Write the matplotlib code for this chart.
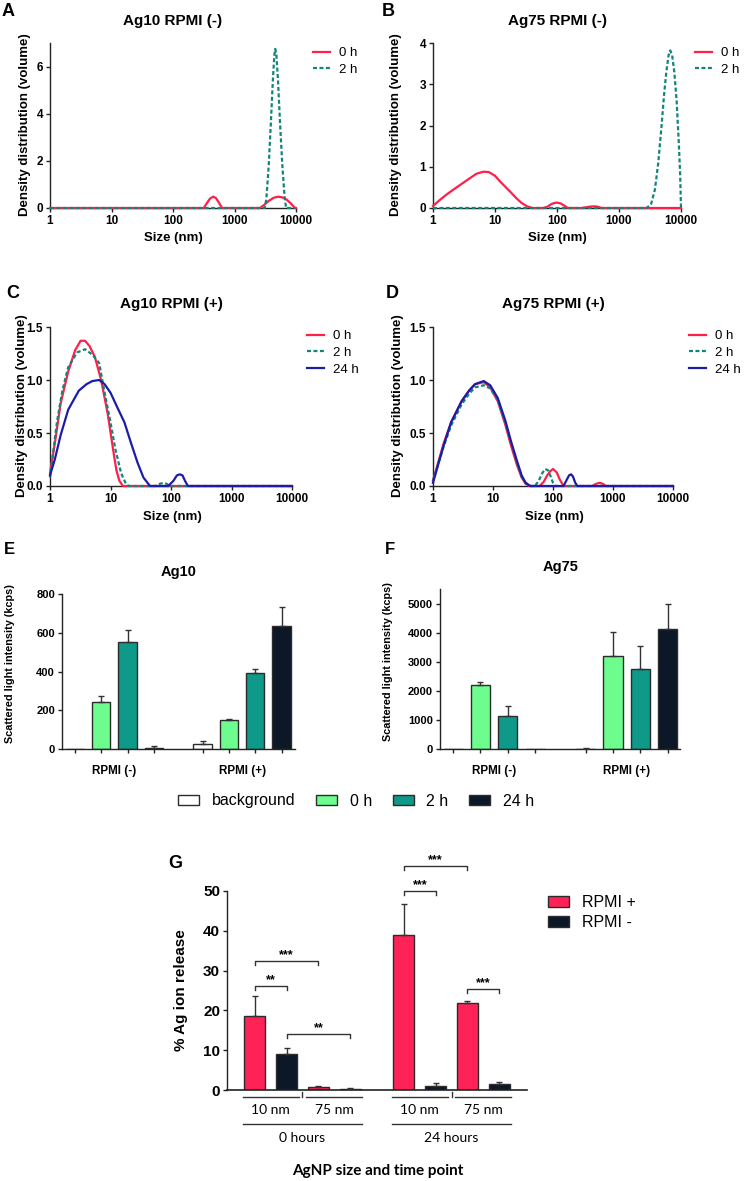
import numpy as np
import matplotlib
matplotlib.use("Agg")
import matplotlib.pyplot as plt
from matplotlib.patches import Patch
from matplotlib.ticker import NullLocator
import matplotlib.transforms as mtransforms

plt.rcParams['font.family'] = ['Liberation Sans', 'DejaVu Sans']

W, H = 745, 1181

# ---------------- data ----------------
# A: Ag10 RPMI (-)
a_0h_size = [1, 316, 350, 400, 450, 500, 560, 630, 2600, 3000, 3600, 4300, 5100, 6000, 7000, 8200, 9600, 10000]
a_0h_dens = [0, 0, 0.18, 0.40, 0.48, 0.42, 0.22, 0, 0, 0.12, 0.30, 0.43, 0.48, 0.45, 0.36, 0.20, 0, 0]
a_2h_size = [1, 3100, 3300, 3600, 3900, 4200, 4450, 4600, 4800, 5100, 5500, 6000, 6500, 6900, 10000]
a_2h_dens = [0, 0, 0.4, 1.8, 3.6, 5.4, 6.5, 6.75, 6.5, 5.4, 3.6, 1.8, 0.5, 0, 0]

# B: Ag75 RPMI (-)
b_0h_size = [1, 1.3, 1.7, 2.2, 3, 4, 5, 6.5, 8, 10, 12.5, 15, 18, 22, 27, 33, 40,
             60, 70, 80, 90, 100, 115, 130, 150, 250, 300, 350, 400, 460, 520, 10000]
b_0h_dens = [0.05, 0.2, 0.34, 0.46, 0.6, 0.73, 0.83, 0.88, 0.87, 0.78, 0.62, 0.5, 0.38, 0.24, 0.12, 0.04, 0,
             0, 0.03, 0.09, 0.12, 0.13, 0.11, 0.06, 0, 0, 0.02, 0.035, 0.04, 0.03, 0, 0]
b_2h_size = [1, 2800, 3300, 3800, 4300, 4800, 5300, 5800, 6300, 6700, 7200, 7800, 8500, 9200, 9700, 10000]
b_2h_dens = [0, 0, 0.1, 0.45, 1.1, 1.9, 2.7, 3.3, 3.7, 3.82, 3.7, 3.3, 2.6, 1.6, 0.8, 0]

# C: Ag10 RPMI (+)
c_0h_size = [1, 1.2, 1.5, 2, 2.6, 3.2, 3.8, 4.5, 5.5, 7, 9, 11, 12.5, 14, 16, 10000]
c_0h_dens = [0.12, 0.4, 0.78, 1.08, 1.28, 1.37, 1.37, 1.32, 1.22, 1.0, 0.68, 0.35, 0.15, 0.05, 0, 0]
c_2h_size = [1, 1.3, 1.6, 2, 2.8, 3.8, 5, 6.5, 8, 10, 12, 15, 18, 20, 55, 65, 75, 85, 95, 10000]
c_2h_dens = [0.08, 0.6, 0.9, 1.12, 1.26, 1.29, 1.24, 1.16, 0.88, 0.6, 0.35, 0.12, 0.02, 0, 0, 0.02, 0.03, 0.02, 0, 0]
c_24h_size = [1, 1.2, 1.5, 2, 3, 4, 5, 6.5, 8, 10, 13, 17, 22, 28, 35, 45,
              90, 110, 125, 140, 155, 170, 190, 10000]
c_24h_dens = [0.1, 0.25, 0.48, 0.72, 0.9, 0.96, 0.99, 1.0, 0.96, 0.88, 0.74, 0.6, 0.4, 0.22, 0.08, 0,
              0, 0.05, 0.1, 0.11, 0.1, 0.05, 0, 0]

# D: Ag75 RPMI (+)
d_0h_size = [1, 1.5, 2, 3, 4, 5, 7, 9, 12, 16, 20, 25, 30, 35, 40,
             60, 70, 80, 90, 100, 115, 130, 150, 450, 520, 600, 680, 760, 10000]
d_0h_dens = [0.05, 0.4, 0.6, 0.8, 0.9, 0.96, 0.98, 0.93, 0.8, 0.58, 0.38, 0.2, 0.08, 0.02, 0,
             0, 0.04, 0.1, 0.14, 0.16, 0.13, 0.06, 0, 0, 0.02, 0.03, 0.02, 0, 0]
d_2h_size = [1, 1.5, 2, 3, 4, 5, 7, 9, 12, 16, 20, 25, 30, 35, 42,
             50, 58, 66, 74, 82, 90, 100, 110, 10000]
d_2h_dens = [0.05, 0.37, 0.57, 0.77, 0.87, 0.93, 0.95, 0.92, 0.81, 0.6, 0.4, 0.22, 0.09, 0.03, 0,
             0, 0.05, 0.12, 0.16, 0.15, 0.1, 0.03, 0, 0]
d_24h_size = [1, 1.5, 2, 3, 4, 5, 7, 9, 12, 16, 20, 25, 30, 35, 42,
              150, 170, 185, 200, 215, 235, 255, 10000]
d_24h_dens = [0.03, 0.38, 0.6, 0.8, 0.9, 0.96, 0.99, 0.95, 0.83, 0.62, 0.42, 0.24, 0.1, 0.03, 0,
              0, 0.06, 0.1, 0.11, 0.09, 0.03, 0, 0]

# E / F: scattered light intensity (kcps)
media = ['RPMI (-)', 'RPMI (+)']
times = ['background', '0 h', '2 h', '24 h']
ag10_minus_mean = [0, 245, 553, 4]
ag10_minus_err = [0, 28, 62, 12]
ag10_plus_mean = [26, 152, 393, 636]
ag10_plus_err = [15, 4, 21, 98]
ag75_minus_mean = [0, 2210, 1140, 5]
ag75_minus_err = [0, 100, 345, 0]
ag75_plus_mean = [15, 3210, 2760, 4140]
ag75_plus_err = [10, 825, 795, 860]

# G: % Ag ion release, order: 0h 10nm, 0h 75nm, 24h 10nm, 24h 75nm
sizes = ['10 nm', '75 nm']
timepoints = ['0 hours', '24 hours']
rpmi_plus = [18.6, 0.8, 38.9, 21.9]
rpmi_plus_err = [5.0, 0.3, 7.8, 0.4]
rpmi_minus = [9.1, 0.2, 1.0, 1.6]
rpmi_minus_err = [1.5, 0.2, 0.8, 0.3]
# (bar index a, bar index b, bracket height, label)
brackets = [(0, 2, 32.5, '***'), (0, 1, 26.2, '**'), (1, 3, 14.1, '**'),
            (4, 6, 56.4, '***'), (4, 5, 50.1, '***'), (6, 7, 25.4, '***')]

# ---------------- styles ----------------
RED = '#ff1f48'
TEAL = '#12857a'
BLUE = '#1c1caa'
AXC = '#222222'
BAR_COLORS = ['#ffffff', '#6dfd8f', '#0f9988', '#0c1828']
PLUS_COLOR = '#fe2257'
MINUS_COLOR = '#0c1828'
DASH = (0, (1.8, 1.1))

fig = plt.figure(figsize=(W / 100, H / 100), dpi=100)


def px_box(l, t, r, b):
    return [l / W, 1 - b / H, (r - l) / W, (b - t) / H]


def ftext(x, y, s, **kw):
    kw.setdefault('ha', 'center')
    kw.setdefault('va', 'center')
    fig.text(x / W, 1 - y / H, s, **kw)


def base_style(ax, tsize):
    for side in ('top', 'right'):
        ax.spines[side].set_visible(False)
    for side in ('left', 'bottom'):
        ax.spines[side].set_linewidth(1.0)
        ax.spines[side].set_color(AXC)
    ax.tick_params(direction='out', length=3, width=1, color=AXC, labelsize=tsize, pad=2)


def density_panel(box, curves, ymax, yticks, yfmt, legend_xy):
    ax = fig.add_axes(px_box(*box))
    for size, dens, color, ls, lab in curves:
        ax.plot(size, dens, color=color, ls=ls, lw=1.6, label=lab, clip_on=False, zorder=3)
    ax.set_xscale('log')
    ax.set_xlim(1, 10000)
    ax.set_ylim(0, ymax)
    xt = [1, 10, 100, 1000, 10000]
    ax.set_xticks(xt, [str(v) for v in xt], fontweight='bold')
    ax.xaxis.set_minor_locator(NullLocator())
    ax.set_yticks(yticks, [yfmt.format(v) for v in yticks], fontweight='bold')
    base_style(ax, 8.5)
    ax.legend(loc='upper left', bbox_to_anchor=(legend_xy[0] / W, 1 - legend_xy[1] / H),
              bbox_transform=fig.transFigure, frameon=False, borderpad=0, borderaxespad=0,
              handlelength=1.3, handletextpad=0.7, labelspacing=0.35, fontsize=9.5)
    return ax


axA = density_panel((50, 43, 296, 208),
                    [(a_0h_size, a_0h_dens, RED, '-', '0 h'), (a_2h_size, a_2h_dens, TEAL, DASH, '2 h')],
                    7, [0, 2, 4, 6], '{:g}', (313, 47))
axB = density_panel((433, 43, 681, 208),
                    [(b_0h_size, b_0h_dens, RED, '-', '0 h'), (b_2h_size, b_2h_dens, TEAL, DASH, '2 h')],
                    4, [0, 1, 2, 3, 4], '{:g}', (695, 47))
axC = density_panel((50, 327, 292, 486),
                    [(c_0h_size, c_0h_dens, RED, '-', '0 h'), (c_2h_size, c_2h_dens, TEAL, DASH, '2 h'),
                     (c_24h_size, c_24h_dens, BLUE, '-', '24 h')],
                    1.5, [0, 0.5, 1.0, 1.5], '{:.1f}', (307, 330))
axD = density_panel((433, 327, 673, 486),
                    [(d_0h_size, d_0h_dens, RED, '-', '0 h'), (d_2h_size, d_2h_dens, TEAL, DASH, '2 h'),
                     (d_24h_size, d_24h_dens, BLUE, '-', '24 h')],
                    1.5, [0, 0.5, 1.0, 1.5], '{:.1f}', (689, 330))

bold = dict(fontweight='bold')
for (tx, ty, title), (lx, ly, letter), (yx, yy), (sx, sy) in [
        ((173, 21, 'Ag10 RPMI (-)'), (8, 12, 'A'), (25, 125), (173, 238)),
        ((557, 21, 'Ag75 RPMI (-)'), (388, 12, 'B'), (396, 125), (557, 238)),
        ((171, 304, 'Ag10 RPMI (+)'), (13, 293, 'C'), (22, 406), (172, 517)),
        ((553, 304, 'Ag75 RPMI (+)'), (392, 293, 'D'), (398, 406), (554, 517))]:
    ftext(tx, ty, title, fontsize=11, **bold)
    ftext(lx, ly, letter, fontsize=13, **bold)
    ftext(yx, yy, 'Density distribution (volume)', fontsize=9.5, rotation=90, **bold)
    ftext(sx, sy, 'Size (nm)', fontsize=9.5, **bold)


# ---------------- E / F ----------------
def intensity_panel(box, xlim, minus_mean, minus_err, plus_mean, plus_err, ymax, yticks):
    ax = fig.add_axes(px_box(*box))
    pos_minus = np.arange(4)
    pos_plus = np.arange(4) + 4.85
    for pos, mean, err in ((pos_minus, minus_mean, minus_err), (pos_plus, plus_mean, plus_err)):
        mean = np.asarray(mean, float)
        err = np.asarray(err, float)
        ax.bar(pos, mean, width=0.7, color=BAR_COLORS, edgecolor='#2b2b2b', linewidth=1, zorder=2)
        m = err > 0
        ax.errorbar(pos[m], mean[m], yerr=[np.zeros(m.sum()), err[m]], fmt='none',
                    ecolor='#333333', elinewidth=1, capsize=2.2, capthick=1, zorder=3)
    ax.set_xlim(*xlim)
    ax.set_ylim(0, ymax)
    ax.set_xticks(np.concatenate([pos_minus, pos_plus]), [''] * 8)
    ax.set_yticks(yticks, [str(v) for v in yticks], fontweight='bold')
    base_style(ax, 8)
    for pos, lab in ((pos_minus, media[0]), (pos_plus, media[1])):
        ax.annotate(lab, xy=(pos.mean(), 0), xycoords=('data', 'axes fraction'),
                    xytext=(0, -15.8), textcoords='offset points', ha='center', va='center',
                    fontsize=8.4, fontweight='bold', annotation_clip=False)
    return ax


axE = intensity_panel((62, 594, 295, 749), (-0.49, 8.36), ag10_minus_mean, ag10_minus_err,
                      ag10_plus_mean, ag10_plus_err, 800, [0, 200, 400, 600, 800])
axF = intensity_panel((440, 589, 680, 749), (-0.48, 8.3), ag75_minus_mean, ag75_minus_err,
                      ag75_plus_mean, ag75_plus_err, 5500, [0, 1000, 2000, 3000, 4000, 5000])

ftext(179, 572, 'Ag10', fontsize=10.5, **bold)
ftext(561, 567, 'Ag75', fontsize=10.5, **bold)
ftext(9, 550, 'E', fontsize=12, **bold)
ftext(390, 550, 'F', fontsize=12, **bold)
ftext(10, 664, 'Scattered light intensity (kcps)', fontsize=7.8, rotation=90, **bold)
ftext(388, 662, 'Scattered light intensity (kcps)', fontsize=7.8, rotation=90, **bold)

handles = [Patch(facecolor=c, edgecolor='#2b2b2b', linewidth=1) for c in BAR_COLORS]
fig.legend(handles, times, loc='center', bbox_to_anchor=(0.478, 1 - 801 / H), ncol=4,
           frameon=False, fontsize=11.5, handlelength=1.3, handleheight=0.62,
           handletextpad=0.8, columnspacing=1.3, borderpad=0, borderaxespad=0)

# ---------------- G ----------------
axG = fig.add_axes(px_box(227, 891, 527, 1090))
time_offset = [0, 4.7]
pos_plus, pos_minus = [], []
for t, off in enumerate(time_offset):
    for s in range(2):
        pos_plus.append(off + 2 * s)
        pos_minus.append(off + 2 * s + 1)
pos_plus = np.array(pos_plus)
pos_minus = np.array(pos_minus)
axG.bar(pos_plus, rpmi_plus, width=0.66, color=PLUS_COLOR, edgecolor='#2b2b2b', linewidth=1,
        zorder=2, label='RPMI +')
axG.bar(pos_minus, rpmi_minus, width=0.66, color=MINUS_COLOR, edgecolor='#2b2b2b', linewidth=1,
        zorder=2, label='RPMI -')
for pos, mean, err in ((pos_plus, rpmi_plus, rpmi_plus_err), (pos_minus, rpmi_minus, rpmi_minus_err)):
    axG.errorbar(pos, mean, yerr=[np.zeros(len(err)), err], fmt='none', ecolor='#333333',
                 elinewidth=1, capsize=2.2, capthick=1, zorder=3)
axG.set_xlim(-0.88, 8.58)
axG.set_ylim(0, 50)
axG.set_xticks([])
axG.set_yticks([0, 10, 20, 30, 40, 50], ['0', '10', '20', '30', '40', '50'], fontweight='bold')
base_style(axG, 11)
axG.spines['bottom'].set_linewidth(1.2)

bar_order = np.ravel(np.column_stack([pos_plus, pos_minus]))
for a, b, y, lab in brackets:
    x1, x2 = bar_order[a], bar_order[b]
    axG.plot([x1, x1, x2, x2], [y - 1.0, y, y, y - 1.0], color='#333333', lw=1, clip_on=False)
    axG.text((x1 + x2) / 2, y + 0.7, lab, ha='center', va='baseline', fontsize=9, fontweight='bold')

trG = mtransforms.blended_transform_factory(axG.transData, axG.transAxes)
lab_font = dict(family=['Lato', 'DejaVu Sans'], fontsize=10)
for t, off in enumerate(time_offset):
    for s in range(2):
        c = off + 2 * s + 0.5
        axG.plot([c - 0.88, c + 0.88], [-0.035, -0.035], color='#333333', lw=1,
                 transform=trG, clip_on=False)
        axG.text(c, -0.1, sizes[s], ha='center', va='center', transform=trG, **lab_font)
    axG.plot([off + 1.5, off + 1.5], [-0.008, -0.035], color='#333333', lw=1,
             transform=trG, clip_on=False)
    axG.plot([off - 0.38, off + 3.38], [-0.171, -0.171], color='#333333', lw=1,
             transform=trG, clip_on=False)
    axG.text(off + 1.5, -0.241, timepoints[t], ha='center', va='center', transform=trG, **lab_font)
axG.text(3.88, -0.407, 'AgNP size and time point', ha='center', va='center', transform=trG,
         family=['Lato', 'DejaVu Sans'], fontsize=11, fontweight='bold')

ftext(181, 990, '% Ag ion release', fontsize=11, rotation=90, **bold)
ftext(175, 863, 'G', fontsize=13, **bold)
axG.legend(loc='upper left', bbox_to_anchor=(548 / W, 1 - 895 / H), bbox_transform=fig.transFigure,
           frameon=False, fontsize=11.5, handlelength=1.3, handleheight=0.65, handletextpad=0.85,
           labelspacing=0.3, borderpad=0, borderaxespad=0)

fig.savefig('out.png', dpi=100)
